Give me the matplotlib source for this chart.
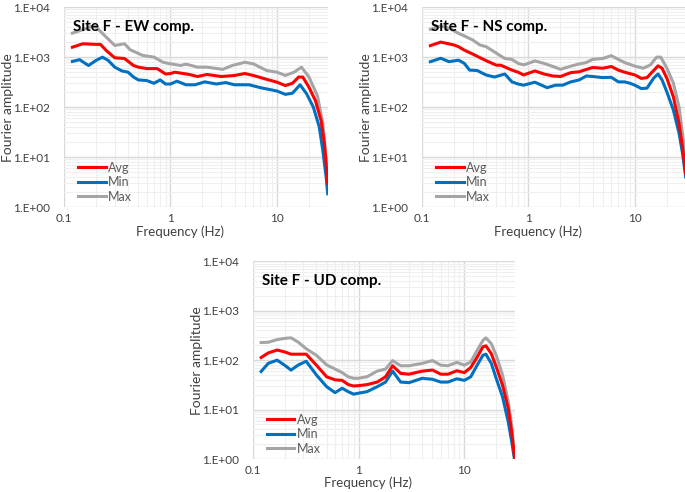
import numpy as np
import matplotlib
matplotlib.use("Agg")
import matplotlib.pyplot as plt
from matplotlib.ticker import LogLocator, FixedLocator, NullFormatter

plt.rcParams['font.family'] = ['Lato', 'DejaVu Sans']

# ---- data (frequency in Hz, Fourier amplitude) ----
ew_f_max = [0.12, 0.16, 0.18, 0.2, 0.25, 0.3, 0.37, 0.42, 0.55, 0.7, 0.85, 1.0, 1.25, 1.4,
            1.8, 2.2, 3.1, 3.8, 5.0, 6.0, 8.0, 10, 12, 14.5, 17, 20, 24, 27, 30]
ew_max = [3020, 3700, 4100, 4000, 2500, 1710, 1850, 1400, 1080, 1000, 790, 735, 680, 725,
          630, 630, 570, 680, 790, 735, 540, 500, 430, 500, 630, 400, 170, 47, 4]
ew_f_avg = [0.12, 0.15, 0.2, 0.22, 0.25, 0.3, 0.37, 0.45, 0.5, 0.6, 0.75, 0.9, 1.0, 1.1,
            1.5, 1.8, 2.2, 3, 4, 5, 6, 8, 10, 12, 14, 16, 17.5, 20, 23, 26, 28, 30]
ew_avg = [1580, 1850, 1800, 1800, 1350, 970, 940, 680, 630, 590, 590, 460, 470, 500,
          450, 410, 450, 410, 430, 470, 430, 360, 316, 270, 300, 400, 400, 250, 135, 54, 18, 3]
ew_f_min = [0.12, 0.14, 0.17, 0.2, 0.23, 0.26, 0.3, 0.35, 0.4, 0.45, 0.5, 0.6, 0.7, 0.8,
            0.9, 1.0, 1.15, 1.4, 1.7, 2.1, 2.7, 3.3, 4, 5.5, 7, 9, 10, 12, 14, 16.5, 19,
            22, 25, 27, 29, 30]
ew_min = [820, 890, 680, 860, 1000, 860, 630, 530, 500, 400, 350, 340, 300, 350,
          290, 290, 330, 280, 280, 320, 290, 310, 280, 280, 245, 220, 210, 180, 190, 280, 185,
          100, 40, 13.5, 4, 1.85]

ns_f_max = [0.12, 0.15, 0.18, 0.22, 0.25, 0.3, 0.35, 0.4, 0.5, 0.6, 0.7, 0.8, 0.9, 1.0,
            1.15, 1.4, 1.7, 2.0, 2.5, 3, 3.5, 4, 5, 6, 7, 8, 10, 12, 14, 16, 17.5, 20,
            23, 26, 28, 30]
ns_max = [3600, 4200, 3800, 3000, 2650, 2200, 1750, 1620, 1200, 940, 900, 750, 700, 750,
          840, 750, 650, 570, 660, 730, 780, 900, 940, 1070, 900, 780, 660, 600, 700, 1000, 1000, 600,
          300, 100, 30, 8.7]
ns_f_avg = [0.12, 0.15, 0.2, 0.22, 0.25, 0.3, 0.4, 0.5, 0.55, 0.7, 0.8, 0.9, 1.15, 1.4,
            1.7, 2.0, 2.5, 3, 4, 5, 6, 7, 8, 10, 11.5, 13, 15, 16.5, 18, 20,
            23, 26, 28, 30]
ns_avg = [1700, 2000, 1750, 1620, 1380, 1150, 850, 690, 690, 550, 500, 440, 530, 460,
          420, 410, 490, 510, 620, 600, 650, 550, 500, 440, 375, 390, 540, 670, 600, 375,
          160, 47, 16, 4.7]
ns_f_min = [0.12, 0.15, 0.18, 0.22, 0.25, 0.28, 0.33, 0.4, 0.48, 0.6, 0.7, 0.8, 0.9, 1.15,
            1.5, 1.8, 2.1, 2.5, 3, 3.5, 4, 5, 6, 7, 8, 9, 10, 11.5, 13, 15, 16.5, 18, 20,
            23, 26, 28, 30]
ns_min = [810, 950, 810, 870, 750, 550, 540, 440, 400, 460, 320, 290, 275, 315,
          245, 275, 275, 320, 350, 420, 410, 390, 395, 320, 320, 300, 275, 235, 240, 380, 460, 350, 200,
          87, 30, 12, 4]

ud_f = [0.12, 0.14, 0.17, 0.2, 0.23, 0.27, 0.32, 0.4, 0.5, 0.6, 0.7, 0.8, 0.9, 1.0,
        1.2, 1.5, 1.8, 2.1, 2.5, 3, 4, 5, 6, 7, 8.5, 10, 11.5, 13, 15, 16, 18, 20,
        23, 26, 28, 30]
ud_max = [227, 230, 260, 275, 283, 230, 170, 125, 80, 66, 56, 46, 43, 43,
          46, 60, 66, 98, 77, 77, 86, 98, 79, 77, 90, 79, 92, 148, 250, 283, 215, 126,
          50, 14.5, 4.9, 1.05]
ud_avg = [113, 140, 160, 147, 132, 132, 132, 79, 46, 40, 39, 32, 30, 30.5,
          32, 36, 46, 77, 54, 52, 60, 63, 52, 52, 61, 56, 71, 108, 186, 195, 135, 74,
          31, 10.7, 3.6, 1.0]
ud_min = [59, 86, 100, 79, 63, 80, 95, 50, 29, 22, 27, 23, 20.5, 21.5,
          23, 29, 36, 60, 36, 35, 43, 41, 36, 36, 42, 39, 46, 74, 126, 132, 86, 43,
          18, 5.7, 2.3, 0.9]

panels = [
    ("Site F - EW comp.", [0.0934, 0.579, 0.385, 0.4065],
     (ew_f_avg, ew_avg), (ew_f_min, ew_min), (ew_f_max, ew_max)),
    ("Site F - NS comp.", [0.616, 0.579, 0.385, 0.4065],
     (ns_f_avg, ns_avg), (ns_f_min, ns_min), (ns_f_max, ns_max)),
    ("Site F - UD comp.", [0.369, 0.067, 0.3825, 0.402],
     (ud_f, ud_avg), (ud_f, ud_min), (ud_f, ud_max)),
]

red = "#FF0000"
blue = "#0070C0"
gray = "#A5A5A5"
txt = "#404040"

fig = plt.figure(figsize=(6.85, 4.92), dpi=100)

for title, pos, avg, mn, mx in panels:
    ax = fig.add_axes(pos)
    ax.set_xscale("log")
    ax.set_yscale("log")
    ax.plot(*avg, color=red, lw=2.2, label="Avg", zorder=4)
    ax.plot(*mn, color=blue, lw=2.2, label="Min", zorder=3)
    ax.plot(*mx, color=gray, lw=2.2, label="Max", zorder=2)
    ax.set_xlim(0.1, 30)
    ax.set_ylim(1, 1e4)

    ax.xaxis.set_major_locator(FixedLocator([0.1, 1, 10]))
    ax.set_xticklabels(["0.1", "1", "10"])
    ax.xaxis.set_minor_locator(LogLocator(base=10, subs=np.arange(2, 10)))
    ax.xaxis.set_minor_formatter(NullFormatter())
    ax.yaxis.set_major_locator(FixedLocator([1, 10, 100, 1000, 10000]))
    ax.set_yticklabels(["1.E+00", "1.E+01", "1.E+02", "1.E+03", "1.E+04"])
    ax.yaxis.set_minor_locator(LogLocator(base=10, subs=np.arange(2, 10)))
    ax.yaxis.set_minor_formatter(NullFormatter())

    ax.grid(True, which="major", color="#D9D9D9", lw=1.0)
    ax.grid(True, which="minor", color="#EFEFEF", lw=0.8)
    ax.set_axisbelow(True)
    for s in ax.spines.values():
        s.set_visible(False)
    ax.tick_params(axis="y", which="both", length=0, labelsize=8.5, colors=txt, pad=10)
    ax.tick_params(axis="x", which="both", length=0, labelsize=8.5, colors=txt, pad=4)

    ax.set_xlabel("Frequency (Hz)", fontsize=9.5, color=txt)
    ax.xaxis.set_label_coords(0.44, -0.09)
    ax.set_ylabel("Fourier amplitude", fontsize=10, color=txt)
    ax.yaxis.set_label_coords(-0.19, 0.5)
    ax.text(0.035, 0.935, title, transform=ax.transAxes, fontsize=11,
            fontweight="bold", color="black", va="top", ha="left")
    leg = ax.legend(loc="lower left", bbox_to_anchor=(0.025, -0.015), frameon=False,
                    fontsize=9, handlelength=2.2, handletextpad=0.2,
                    labelspacing=0.2, borderaxespad=0.2)
    for t in leg.get_texts():
        t.set_color("#595959")

fig.savefig("out.png", dpi=100)
